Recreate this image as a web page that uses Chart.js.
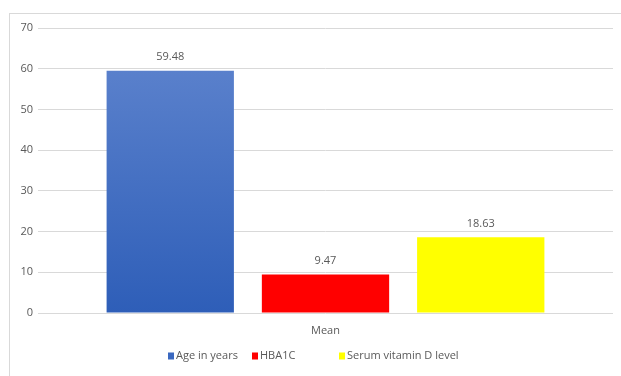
<!DOCTYPE html>
<html>
<head>
<meta charset="utf-8">
<script src="https://cdn.jsdelivr.net/npm/chart.js@4"></script>
<style>
  html, body { margin: 0; padding: 0; background: #fff; }
  #wrap { width: 621px; height: 376px; }
</style>
</head>
<body>
<div id="wrap"><canvas id="c" width="621" height="376"></canvas></div>
<script>
const categories = ['Mean'];
const seriesNames = ['Age in years', 'HBA1C', 'Serum vitamin D level'];
const ageValues = [59.48];
const hba1cValues = [9.47];
const vitaminDValues = [18.63];
const yTicks = [0, 10, 20, 30, 40, 50, 60, 70];

const FONT = "'Open Sans', 'Liberation Sans', sans-serif";
const TEXT = '#595959';

function blueGradient(ctx) {
  const chart = ctx.chart;
  const area = chart.chartArea;
  if (!area) return '#4472c4';
  const g = chart.ctx.createLinearGradient(0, area.top, 0, area.bottom);
  g.addColorStop(0, '#6186cf');
  g.addColorStop(1, '#2e5eb8');
  return g;
}

// light outer frame around the chart
const frame = {
  id: 'frame',
  beforeDraw(chart) {
    const c = chart.ctx;
    c.save();
    c.strokeStyle = '#d9d9d9';
    c.lineWidth = 1;
    c.strokeRect(9.5, 13.5, 700, 500);
    c.restore();
  }
};

// value printed above each bar
const valueLabels = {
  id: 'valueLabels',
  afterDatasetsDraw(chart) {
    const c = chart.ctx;
    c.save();
    c.font = '11px ' + FONT;
    c.fillStyle = TEXT;
    c.textAlign = 'center';
    c.textBaseline = 'bottom';
    chart.data.datasets.forEach((ds, i) => {
      chart.getDatasetMeta(i).data.forEach((bar, j) => {
        c.fillText(ds.data[j].toFixed(2), bar.x, bar.y - 8);
      });
    });
    c.restore();
  }
};

// legend row with evenly spaced entries under the axis
const legendRow = {
  id: 'legendRow',
  afterDraw(chart) {
    const c = chart.ctx;
    const starts = [168, 252, 339];
    const y = 356;
    c.save();
    c.font = '11px ' + FONT;
    c.textBaseline = 'middle';
    c.textAlign = 'left';
    chart.data.datasets.forEach((ds, i) => {
      const x = starts[i];
      c.fillStyle = i === 0 ? '#3a68c0' : ds.backgroundColor;
      c.fillRect(x, y - 3.5, 6, 7);
      c.fillStyle = TEXT;
      c.fillText(ds.label, x + 8, y);
    });
    c.restore();
  }
};

new Chart(document.getElementById('c'), {
  type: 'bar',
  data: {
    labels: categories,
    datasets: [
      { label: seriesNames[0], data: ageValues, backgroundColor: blueGradient },
      { label: seriesNames[1], data: hba1cValues, backgroundColor: '#ff0000' },
      { label: seriesNames[2], data: vitaminDValues, backgroundColor: '#ffff00' }
    ]
  },
  options: {
    responsive: false,
    animation: false,
    devicePixelRatio: 1,
    layout: { padding: { left: 12, top: 28, right: 8, bottom: 35 } },
    datasets: { bar: { categoryPercentage: 0.81, barPercentage: 0.82 } },
    scales: {
      x: {
        grid: { display: false },
        border: { display: false },
        ticks: { color: TEXT, font: { family: FONT, size: 11 }, padding: 3 },
        afterFit(s) { s.height = 28; }
      },
      y: {
        min: 0, max: 70,
        afterBuildTicks(s) { s.ticks = yTicks.map(v => ({ value: v })); },
        grid: { color: '#d9d9d9', drawTicks: false },
        border: { display: false },
        ticks: { color: TEXT, font: { family: FONT, size: 11 }, padding: 5 },
        afterFit(s) { s.width = 26; }
      }
    },
    plugins: {
      legend: { display: false },
      tooltip: { enabled: false }
    }
  },
  plugins: [frame, valueLabels, legendRow]
});
</script>
</body>
</html>
